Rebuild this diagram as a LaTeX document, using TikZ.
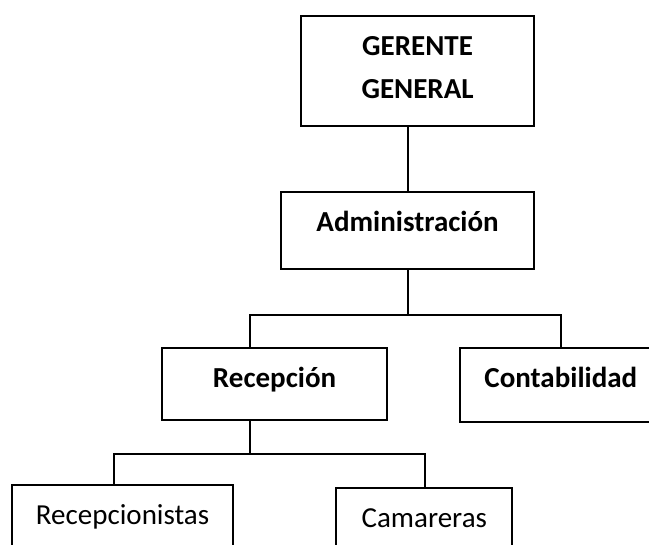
\documentclass[tikz,border=0pt]{standalone}
\usepackage{fontspec}
\setmainfont{Carlito}
\usepackage{tikz}
\usetikzlibrary{positioning}

\begin{document}
\begin{tikzpicture}[
  x=1pt, y=-1pt,
  font=\fontsize{29}{43}\selectfont,
  box/.style={draw, line width=2.2pt, align=center, inner ysep=0pt,
              text height=39pt, anchor=north west},
  head/.style={box, font=\fontsize{29}{43}\selectfont\bfseries},
  conn/.style={line width=2.2pt}
]
\clip (0,0) rectangle (649,545);

\node[head, minimum width=233pt, text height=82pt, text depth=28pt] (ger) at (300,15) {GERENTE\\GENERAL};
\node[head, minimum width=253pt, text depth=38pt, below=64pt of ger.south east, anchor=north east] (adm) {Administración};
\node[head, minimum width=225pt, text depth=33pt] (rec) at (161,347) {Recepción};
\node[head, minimum width=201pt, text depth=35pt, right=71pt of rec.north east, anchor=north west] (con) {Contabilidad};
\node[box, minimum width=221pt, text depth=45pt] (rcp) at (11,484) {Recepcionistas};
\node[box, minimum width=176pt, text depth=45pt, right=101pt of rcp.north east, anchor=north west, yshift=-3pt] (cam) {Camareras};

\draw[conn] (adm.north) -- (adm.north |- ger.south);
\draw[conn] (adm.south) -- ++(0,45) coordinate (jA);
\draw[conn] ([xshift=89pt]rec.north west) |- (jA) -| ([xshift=102pt]con.north west);
\draw[conn] ([xshift=89pt]rec.south west) -- ++(0,33) coordinate (jB);
\draw[conn] ([xshift=103pt]rcp.north west) |- (jB) -| ([xshift=90pt]cam.north west);
\end{tikzpicture}
\end{document}
